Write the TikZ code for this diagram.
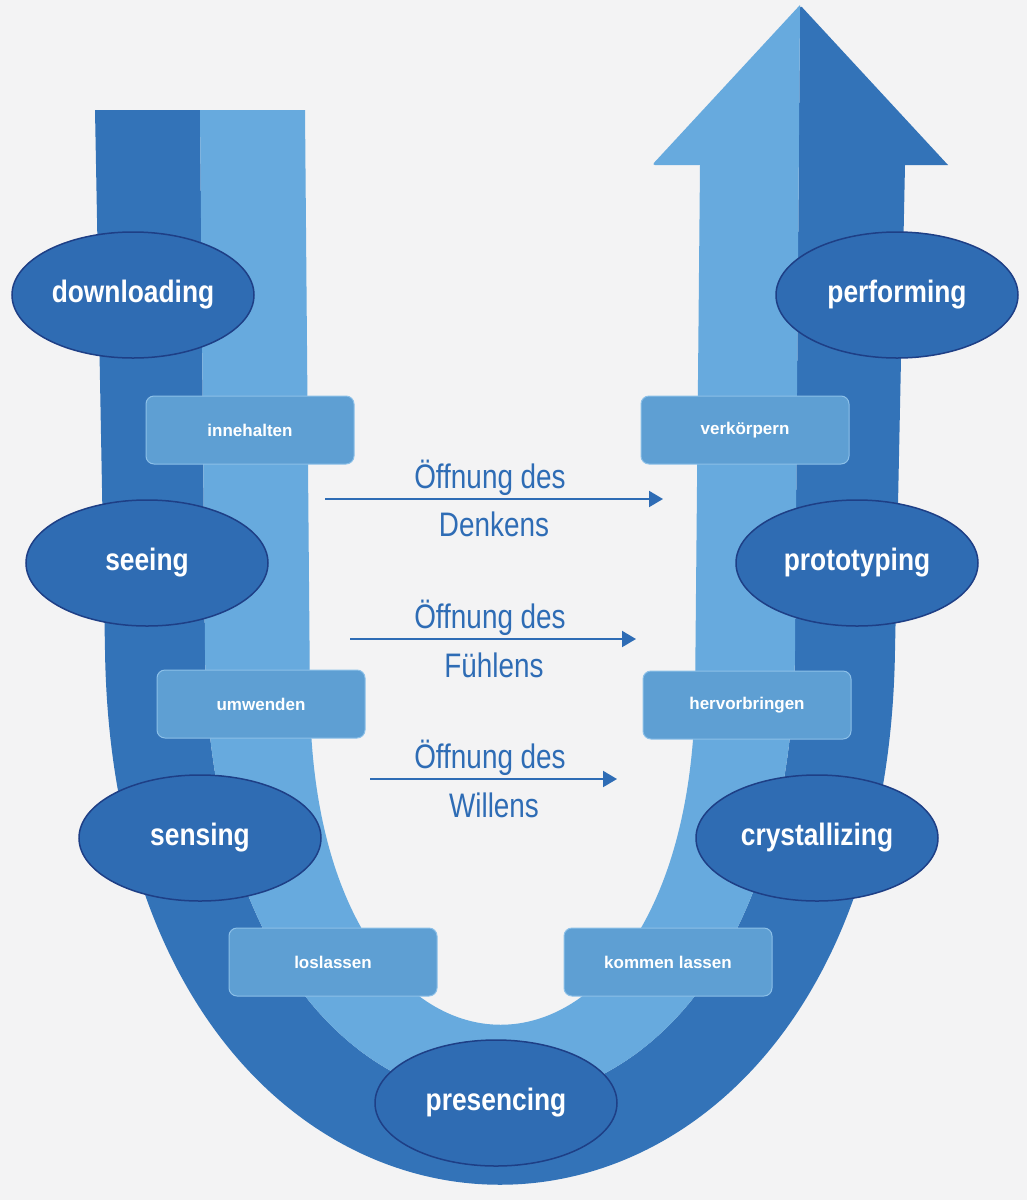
\documentclass[tikz,border=0pt]{standalone}
\usepackage{fontspec}
\setmainfont{Liberation Sans}
\newfontfamily\condfont[FakeStretch=0.82]{Liberation Sans}
\newfontfamily\condbold[FakeStretch=0.85]{Liberation Sans Bold}
\definecolor{darkb}{HTML}{3373B8}
\definecolor{lightb}{HTML}{67AADE}
\definecolor{ellf}{HTML}{2F6CB3}
\definecolor{elld}{HTML}{1E3F86}
\definecolor{boxf}{HTML}{5E9FD3}
\definecolor{boxd}{HTML}{8CC0E8}
\definecolor{txtb}{HTML}{2E6CB5}
\definecolor{bg}{HTML}{F3F3F4}
\tikzset{
  stage/.style={ellipse, fill=ellf, draw=elld, line width=1.5pt, minimum width=242pt, minimum height=126pt, text=white, font=\condbold\fontsize{31}{31}\selectfont, inner sep=0pt},
  sbox/.style={rounded corners=8pt, fill=boxf, draw=boxd, line width=1pt, minimum width=208pt, minimum height=68pt, text=white, font=\bfseries\fontsize{17}{17}\selectfont},
  opn/.style={text=txtb, font=\condfont\fontsize{34}{40}\selectfont, align=center},
  oarr/.style={draw=txtb, line width=2pt, -{Triangle[length=14pt,width=16pt]}}
}
\usetikzlibrary{shapes.geometric,arrows.meta}
\begin{document}
\begin{tikzpicture}[x=1pt,y=-1pt]
\fill[bg] (0,0) rectangle (1027,1200);
\useasboundingbox (0,0) rectangle (1027,1200);
% dark band
\fill[darkb] (95,110) -- (105,650) .. controls (115,1363) and (885,1363) .. (895,650) -- (905,165) -- (948,165) [rounded corners=3pt] -- (800,5) [sharp corners] -- (795,650) .. controls (790,1250) and (210,1250) .. (205,650) -- (200,110) -- cycle;
% light band
\fill[lightb] (200,110) -- (205,650) .. controls (210,1250) and (790,1250) .. (795,650) -- (800,5) [rounded corners=3pt] -- (652,165) [sharp corners] -- (700,165) -- (695,700) .. controls (685,1133) and (315,1133) .. (310,700) -- (305,110) -- cycle;
% stages
\node[stage] (dl) at (133,295) {downloading};
\node[stage] (se) at (147,563) {seeing};
\node[stage] (sn) at (200,838) {sensing};
\node[stage] (pr) at (496,1103) {presencing};
\node[stage] (cr) at (817,838) {crystallizing};
\node[stage] (pt) at (857,563) {prototyping};
\node[stage] (pf) at (897,295) {performing};
% boxes
\node[sbox] (b1) at (250,430) {innehalten};
\node[sbox] (b2) at (261,704) {umwenden};
\node[sbox] (b3) at (333,962) {loslassen};
\node[sbox] (b4) at (668,962) {kommen lassen};
\node[sbox] (b5) at (747,705) {hervorbringen};
\node[sbox] (b6) at (745,430) {verkörpern};
% openings
\coordinate (a1s) at (325,499); \coordinate (a1e) at (663,499);
\coordinate (a2s) at (350,639); \coordinate (a2e) at (636,639);
\coordinate (a3s) at (370,779); \coordinate (a3e) at (617,779);
\draw[oarr] (a1s) -- (a1e);
\draw[oarr] (a2s) -- (a2e);
\draw[oarr] (a3s) -- (a3e);
\node[opn] (t1) at (490,478) {Öffnung des};
\node[opn] (t1b) at (494,524) {Denkens};
\node[opn] (t2) at (490,618) {Öffnung des};
\node[opn] (t2b) at (494,665) {Fühlens};
\node[opn] (t3) at (490,758) {Öffnung des};
\node[opn] (t3b) at (494,805) {Willens};
\end{tikzpicture}
\end{document}
